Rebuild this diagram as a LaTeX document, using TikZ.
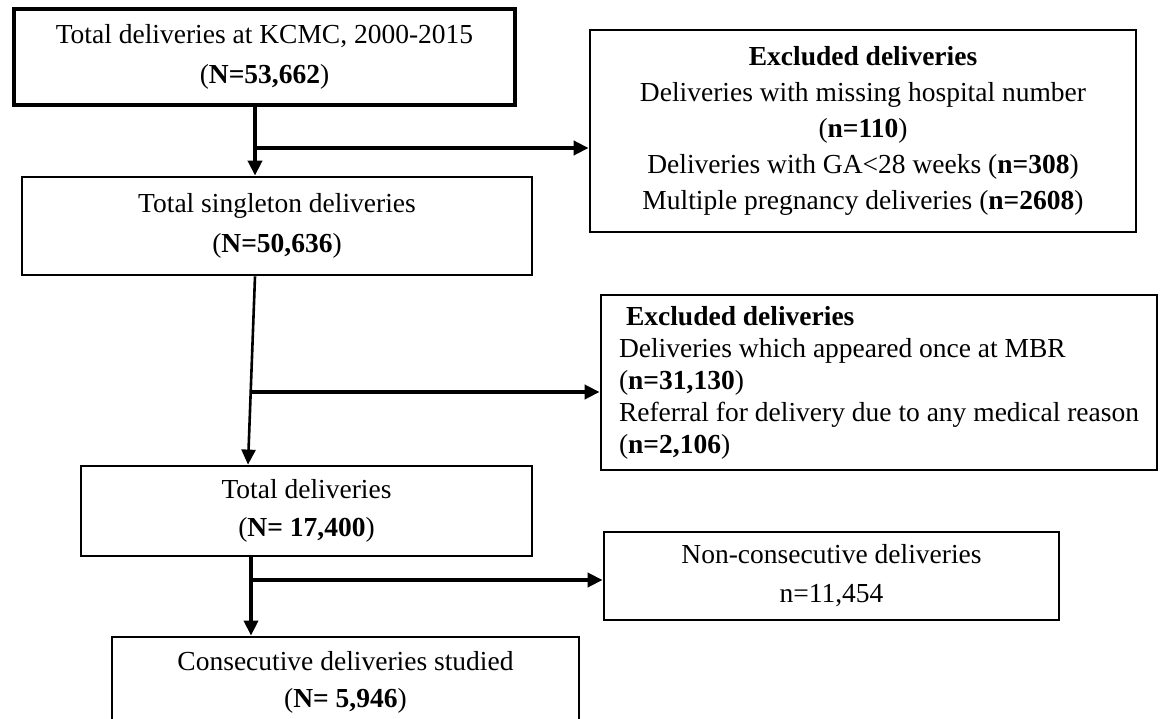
\documentclass[tikz,border=0pt]{standalone}
\usepackage{fontspec}
\setmainfont{Liberation Serif}
\usetikzlibrary{arrows.meta}
\tikzset{
  box/.style={draw=black, line width=2.8pt, rectangle, inner sep=0pt, align=center,
    font=\fontsize{27.5}{40}\selectfont},
  conn/.style={draw=black, line width=4.5pt},
  arr/.style={conn, -{Triangle[length=15pt,width=14pt]}},
  thinarr/.style={draw=black, line width=2.6pt, -{Triangle[length=15pt,width=14pt]}}
}
\begin{document}
\begin{tikzpicture}[x=1pt,y=-1pt]
\useasboundingbox[fill=white] (0,0) rectangle (1162,719);
% boxes
\node[box, line width=4pt, minimum width=501pt, minimum height=96pt] (b1) at (264.5,57)
  {Total deliveries at KCMC, 2000-2015\\(\textbf{N=53,662})};
\node[box, minimum width=510pt, minimum height=98pt] (b2) at (277,226)
  {Total singleton deliveries\\(\textbf{N=50,636})};
\node[box, minimum width=546pt, minimum height=202pt, font=\fontsize{27.5}{36}\selectfont] (e1) at (863,131)
  {\textbf{Excluded deliveries}\\Deliveries with missing hospital number\\(\textbf{n=110})\\Deliveries with GA<28 weeks (\textbf{n=308})\\Multiple pregnancy deliveries (\textbf{n=2608})};
\node[box, minimum width=556pt, minimum height=175pt, align=left,
  font=\fontsize{27.5}{32}\selectfont] (e2) at (879,382.5)
  {\hspace*{7pt}\textbf{Excluded deliveries}\\Deliveries which appeared once at MBR\\(\textbf{n=31,130})\\Referral for delivery due to any medical reason\\(\textbf{n=2,106})};
\node[box, minimum width=451pt, minimum height=90pt, font=\fontsize{27.5}{38}\selectfont] (b3) at (306.5,511)
  {Total deliveries\\(\textbf{N= 17,400})};
\node[box, minimum width=455pt, minimum height=88pt, font=\fontsize{27.5}{39}\selectfont] (nc) at (831.5,576)
  {Non-consecutive deliveries\\n=11,454};
\node[box, minimum width=467pt, minimum height=91pt, font=\fontsize{27.5}{37}\selectfont] (b4) at (345.5,682.5)
  {Consecutive deliveries studied\\(\textbf{N= 5,946})};
% connectors
\coordinate (j1) at (255,148);
\draw[arr] (b1.south -| j1) -- (b2.north -| j1);
\draw[arr] (j1) -- (e1.west |- j1);
\coordinate (t2) at (248,0);
\coordinate (s2) at (255,0);
\draw[thinarr] (b2.south -| s2) -- (b3.north -| t2);
\coordinate (j2) at (251,392);
\draw[arr] (j2) -- (e2.west |- j2);
\coordinate (j3) at (251,580);
\draw[conn, line width=3.5pt, -{Triangle[length=15pt,width=14pt]}] (b3.south -| j3) -- (b4.north -| j3);
\draw[arr] (j3) -- (nc.west |- j3);
\end{tikzpicture}
\end{document}
